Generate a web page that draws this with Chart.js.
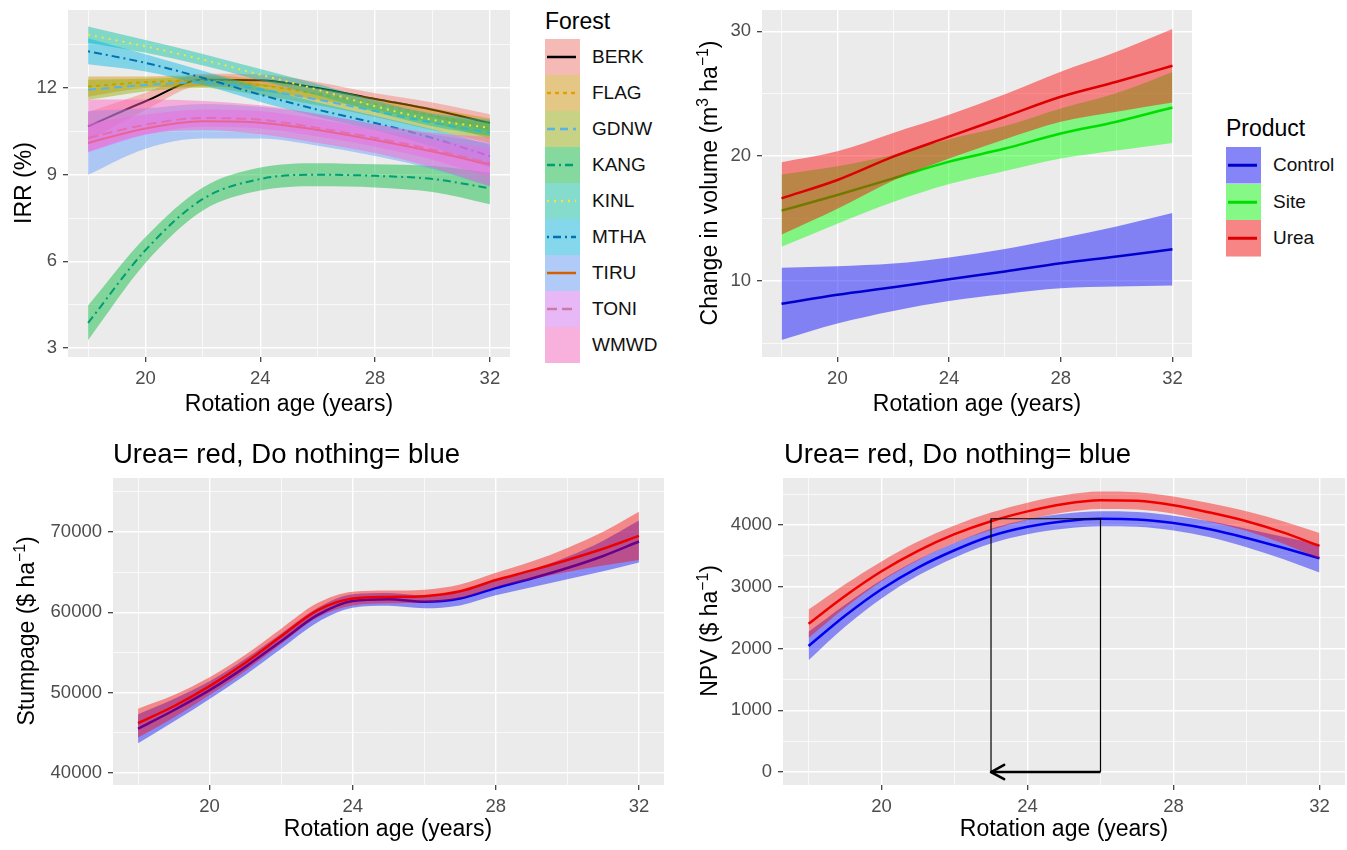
<!DOCTYPE html>
<html>
<head>
<meta charset="utf-8">
<script src="https://cdn.jsdelivr.net/npm/chart.js@4.4.1/dist/chart.umd.min.js"></script>
<style>
  body { margin: 0; background: #fff; font-family: "Liberation Sans", Arial, sans-serif; }
  #page { position: relative; width: 1347px; height: 850px; overflow: hidden; }
  canvas { position: absolute; }
  .txt { position: absolute; white-space: nowrap; color: #000; line-height: 1.15; }
  .ytitle { font-size: 23px; transform: translate(-50%, -50%) rotate(-90deg); }
  .xtitle { font-size: 23px; transform: translate(-50%, -50%); }
  .ptitle { font-size: 27.5px; transform: translate(0, -50%); }
  .ltitle { font-size: 23px; transform: translate(0, -50%); }
  .llabel { font-size: 19px; transform: translate(0, -50%); color: #111; }
  .key { position: absolute; }
  sup { font-size: 0.68em; line-height: 0; vertical-align: 0.55em; }
</style>
</head>
<body>
<div id="page">
  <canvas id="irr" width="515" height="415" style="left:0px;top:0px"></canvas>
  <canvas id="vol" width="497" height="415" style="left:700px;top:0px"></canvas>
  <canvas id="stump" width="640" height="350" style="left:30px;top:470px"></canvas>
  <canvas id="npv" width="647" height="350" style="left:700px;top:470px"></canvas>

  <div class="txt ytitle" style="left:23px;top:183px">IRR (%)</div>
  <div class="txt xtitle" style="left:289px;top:403px">Rotation age (years)</div>

  <div class="txt ytitle" style="left:709px;top:183px">Change in volume (m<sup>3</sup> ha<sup>−1</sup>)</div>
  <div class="txt xtitle" style="left:977px;top:403px">Rotation age (years)</div>

  <div class="txt ptitle" style="left:113px;top:454px">Urea= red, Do nothing= blue</div>
  <div class="txt ytitle" style="left:26px;top:631px">Stumpage ($ ha<sup>−1</sup>)</div>
  <div class="txt xtitle" style="left:388px;top:828px">Rotation age (years)</div>

  <div class="txt ptitle" style="left:784px;top:454px">Urea= red, Do nothing= blue</div>
  <div class="txt ytitle" style="left:709px;top:631px">NPV ($ ha<sup>−1</sup>)</div>
  <div class="txt xtitle" style="left:1064px;top:828px">Rotation age (years)</div>

  <div id="legForest"></div>
  <div id="legProduct"></div>
</div>

<script>
const family = '"Liberation Sans", Arial, sans-serif';

// x values (rotation age, years)
const ageCoarse = [18, 20, 22, 24, 26, 28, 30, 32];
const ageFine = [18, 19, 20, 21, 22, 23, 24, 25, 26, 27, 28, 29, 30, 31, 32];
const ageMajor = [20, 24, 28, 32];
const ageMinor = [18, 22, 26, 30];

// IRR (%) by forest, smoothed mean and half width of the band
const forests = ['BERK', 'FLAG', 'GDNW', 'KANG', 'KINL', 'MTHA', 'TIRU', 'TONI', 'WMWD'];
const irrBERK = [10.67, 11.54, 12.29, 12.27, 12.0, 11.62, 11.25, 10.79];
const irrBERKse = [0.5, 0.3, 0.2, 0.2, 0.2, 0.2, 0.25, 0.3];
const irrFLAG = [12.05, 12.2, 12.25, 12.1, 11.8, 11.45, 11.05, 10.6];
const irrFLAGse = [0.35, 0.2, 0.2, 0.2, 0.2, 0.2, 0.25, 0.35];
const irrGDNW = [11.94, 12.1, 12.2, 11.95, 11.6, 11.2, 10.8, 10.45];
const irrGDNWse = [0.35, 0.22, 0.2, 0.2, 0.2, 0.2, 0.25, 0.35];
const irrKANG = [3.87, 6.39, 8.16, 8.85, 9.0, 8.96, 8.85, 8.53];
const irrKANGse = [0.6, 0.45, 0.4, 0.4, 0.4, 0.4, 0.45, 0.55];
const irrKINL = [13.85, 13.44, 12.98, 12.46, 11.94, 11.37, 10.9, 10.62];
const irrKINLse = [0.28, 0.22, 0.2, 0.2, 0.2, 0.2, 0.22, 0.28];
const irrMTHA = [13.27, 12.87, 12.35, 11.77, 11.25, 10.79, 10.27, 9.64];
const irrMTHAse = [0.45, 0.3, 0.25, 0.25, 0.25, 0.25, 0.3, 0.4];
const irrTIRU = [10.1, 10.6, 10.85, 10.8, 10.55, 10.2, 9.8, 9.35];
const irrTIRUse = [1.1, 0.7, 0.6, 0.55, 0.55, 0.55, 0.6, 0.75];
const irrTONI = [10.27, 10.73, 10.96, 10.9, 10.62, 10.27, 9.87, 9.4];
const irrTONIse = [0.5, 0.35, 0.3, 0.3, 0.3, 0.3, 0.35, 0.5];
const irrWMWD = [10.7, 11.0, 11.05, 10.9, 10.6, 10.25, 9.85, 9.45];
const irrWMWDse = [0.9, 0.6, 0.5, 0.5, 0.5, 0.5, 0.6, 0.85];
const irrMajor = [3, 6, 9, 12];
const irrMinor = [4.5, 7.5, 10.5, 13.5];

// change in volume by product
const products = ['Control', 'Site', 'Urea'];
const volControl = [8.16, 8.88, 9.49, 10.13, 10.75, 11.41, 11.95, 12.53];
const volControlSe = [2.9, 2.3, 1.9, 1.75, 1.8, 2.0, 2.4, 2.9];
const volSite = [15.63, 16.88, 18.21, 19.55, 20.6, 21.81, 22.75, 23.89];
const volSiteSe = [2.9, 2.3, 1.9, 1.8, 1.8, 2.0, 2.3, 2.85];
const volUrea = [16.61, 18.08, 19.95, 21.55, 23.15, 24.75, 25.95, 27.23];
const volUreaSe = [2.9, 2.3, 1.9, 1.75, 1.8, 2.0, 2.4, 2.95];
const volMajor = [10, 20, 30];
const volMinor = [5, 15, 25];

// stumpage ($/ha)
const stumpNothing = [45500, 47800, 50300, 53200, 56400, 59600, 61400, 61600, 61300, 61700, 63000, 64200, 65500, 67000, 68800];
const stumpNothingSe = [1800, 1400, 1100, 1000, 950, 900, 850, 800, 800, 850, 900, 1100, 1400, 1900, 2600];
const stumpUrea = [46200, 48300, 50800, 53700, 57000, 60200, 61700, 61900, 62000, 62600, 64000, 65200, 66500, 67900, 69500];
const stumpUreaSe = [1800, 1400, 1100, 1000, 950, 900, 850, 800, 800, 850, 900, 1100, 1500, 2100, 3000];
const stumpMajor = [40000, 50000, 60000, 70000];
const stumpMinor = [45000, 55000, 65000, 75000];

// NPV ($/ha)
const npvNothing = [2040, 2530, 2960, 3310, 3590, 3820, 3970, 4060, 4100, 4090, 4030, 3930, 3790, 3630, 3460];
const npvNothingSe = [230, 180, 150, 130, 120, 120, 120, 120, 120, 120, 120, 130, 150, 180, 230];
const npvUrea = [2400, 2850, 3250, 3580, 3850, 4060, 4220, 4340, 4400, 4390, 4320, 4200, 4060, 3880, 3660];
const npvUreaSe = [230, 190, 160, 150, 140, 140, 140, 140, 140, 140, 140, 150, 160, 180, 210];
const npvMajor = [0, 1000, 2000, 3000, 4000];
const npvMinor = [500, 1500, 2500, 3500, 4500];
// optimum rotation marker
const boxAge = [23, 23, 26, 26];
const boxNpv = [0, 4100, 4100, 0];
const arrowAge = [26, 23];
const arrowNpv = [0, 0];

// styles
const forestFill = ['#F8766D', '#D39200', '#93AA00', '#00BA38', '#00C19F', '#00B9E3', '#619CFF', '#DB72FB', '#FF61C3'];
const forestLine = ['#000000', '#E69F00', '#56B4E9', '#009E73', '#F0E442', '#0072B2', '#D55E00', '#CC79A7', null];
const forestDash = [[], [4, 4], [8, 5], [8, 4, 2, 4], [2, 5], [2, 4, 8, 4], [], [10, 5], []];
const productFill = ['#0000FF', '#00FF00', '#FF0000'];
const productLine = ['#0000cc', '#00dd00', '#dd0000'];

function rgba(hex, a) {
  const n = parseInt(hex.slice(1), 16);
  return `rgba(${n >> 16},${(n >> 8) & 255},${n & 255},${a})`;
}

function pts(xs, ys) {
  return xs.map((x, i) => ({ x: x, y: ys[i] }));
}

// ribbon (lower + upper filled to lower) then the mean line
function smooth(sets, xs, mean, se, fill, line, width, dash) {
  const lower = mean.map((m, i) => m - se[i]);
  const upper = mean.map((m, i) => m + se[i]);
  sets.push({ data: pts(xs, lower), borderColor: 'rgba(0,0,0,0)', borderWidth: 0, fill: false, cubicInterpolationMode: 'monotone' });
  sets.push({ data: pts(xs, upper), borderColor: 'rgba(0,0,0,0)', borderWidth: 0, backgroundColor: fill, fill: '-1', cubicInterpolationMode: 'monotone' });
  if (line) {
    sets.push({ data: pts(xs, mean), borderColor: line, borderWidth: width, borderDash: dash || [], fill: false, cubicInterpolationMode: 'monotone' });
  }
}

function axis(min, max, major, minor, size, horizontal) {
  const all = major.concat(minor).sort((a, b) => a - b);
  const isMajor = c => c.tick && major.includes(c.tick.value);
  return {
    type: 'linear', min: min, max: max,
    afterBuildTicks: s => { s.ticks = all.map(v => ({ value: v })); },
    afterFit: s => {
      if (horizontal) s.height = size; else s.width = size;
      s.paddingTop = 0; s.paddingBottom = 0; s.paddingLeft = 0; s.paddingRight = 0;
    },
    ticks: {
      autoSkip: false, maxRotation: 0, minRotation: 0, padding: horizontal ? 6 : 6,
      color: '#4d4d4d', font: { family: family, size: 18.5 },
      callback: v => major.includes(v) ? String(v) : ''
    },
    grid: {
      color: '#ffffff',
      lineWidth: c => isMajor(c) ? 1.4 : 0.7,
      tickLength: 5,
      tickWidth: 1.2,
      tickColor: c => isMajor(c) ? '#333333' : 'rgba(0,0,0,0)'
    },
    border: { display: false }
  };
}

const panelBg = {
  id: 'panelBg',
  beforeDraw(chart) {
    const a = chart.chartArea, ctx = chart.ctx;
    ctx.save();
    ctx.fillStyle = '#ebebeb';
    ctx.fillRect(a.left, a.top, a.right - a.left, a.bottom - a.top);
    ctx.restore();
  }
};
Chart.register(panelBg);

const arrowHead = {
  id: 'arrowHead',
  afterDatasetsDraw(chart) {
    chart.data.datasets.forEach((d, i) => {
      if (!d.arrow) return;
      const p = chart.getDatasetMeta(i).data;
      const tip = p[p.length - 1], prev = p[p.length - 2];
      const ang = Math.atan2(tip.y - prev.y, tip.x - prev.x);
      const ctx = chart.ctx;
      ctx.save();
      ctx.strokeStyle = '#000';
      ctx.lineWidth = 2.5;
      ctx.lineCap = 'round';
      ctx.beginPath();
      [-0.5, 0.5].forEach(s => {
        ctx.moveTo(tip.x - 15 * Math.cos(ang + s), tip.y - 15 * Math.sin(ang + s));
        ctx.lineTo(tip.x, tip.y);
      });
      ctx.stroke();
      ctx.restore();
    });
  }
};

function makeChart(id, sets, xOpt, yOpt, pad, plugins) {
  sets.forEach((d, i) => { d.order = sets.length - i; d.pointRadius = 0; });
  return new Chart(document.getElementById(id), {
    type: 'line',
    data: { datasets: sets },
    options: {
      responsive: false,
      animation: false,
      layout: { padding: pad },
      plugins: { legend: { display: false }, tooltip: { enabled: false } },
      scales: { x: xOpt, y: yOpt }
    },
    plugins: plugins || []
  });
}

// panel 1
const irrMean = [irrBERK, irrFLAG, irrGDNW, irrKANG, irrKINL, irrMTHA, irrTIRU, irrTONI, irrWMWD];
const irrSe = [irrBERKse, irrFLAGse, irrGDNWse, irrKANGse, irrKINLse, irrMTHAse, irrTIRUse, irrTONIse, irrWMWDse];
let irrSets = [];
forests.forEach((f, i) => {
  smooth(irrSets, ageCoarse, irrMean[i], irrSe[i], rgba(forestFill[i], 0.45), forestLine[i], 2, forestDash[i]);
});
makeChart('irr', irrSets,
  axis(17.3, 32.7, ageMajor, ageMinor, 58, true),
  axis(2.69, 14.7, irrMajor, irrMinor, 68, false),
  { top: 10, right: 5, left: 0, bottom: 0 });

// panel 2
const volMean = [volControl, volSite, volUrea];
const volSe = [volControlSe, volSiteSe, volUreaSe];
let volSets = [];
products.forEach((p, i) => {
  smooth(volSets, ageCoarse, volMean[i], volSe[i], rgba(productFill[i], 0.45), productLine[i], 2.5);
});
makeChart('vol', volSets,
  axis(17.3, 32.7, ageMajor, ageMinor, 58, true),
  axis(3.9, 31.7, volMajor, volMinor, 62, false),
  { top: 10, right: 5, left: 0, bottom: 0 });

// panel 3
let stumpSets = [];
smooth(stumpSets, ageFine, stumpNothing, stumpNothingSe, 'rgba(0,0,255,0.42)', '#0000ee', 2.5);
smooth(stumpSets, ageFine, stumpUrea, stumpUreaSe, 'rgba(255,0,0,0.42)', '#ee0000', 2.5);
makeChart('stump', stumpSets,
  axis(17.3, 32.7, ageMajor, ageMinor, 35, true),
  axis(38500, 76700, stumpMajor, stumpMinor, 83, false),
  { top: 8, right: 6, left: 0, bottom: 0 });

// panel 4
let npvSets = [];
smooth(npvSets, ageFine, npvNothing, npvNothingSe, 'rgba(0,0,255,0.42)', '#0000ee', 2.5);
smooth(npvSets, ageFine, npvUrea, npvUreaSe, 'rgba(255,0,0,0.42)', '#ee0000', 2.5);
npvSets.push({ data: pts(boxAge, boxNpv), borderColor: '#000', borderWidth: 1.2, fill: false });
npvSets.push({ data: pts(arrowAge, arrowNpv), borderColor: '#000', borderWidth: 2.5, fill: false, arrow: true });
makeChart('npv', npvSets,
  axis(17.3, 32.7, ageMajor, ageMinor, 35, true),
  axis(-210, 4760, npvMajor, npvMinor, 83, false),
  { top: 8, right: 2, left: 0, bottom: 0 },
  [arrowHead]);

// legends
function keySvg(w, h, fill, line, dash, lw) {
  const d = dash && dash.length ? ` stroke-dasharray="${dash.join(' ')}"` : '';
  const ln = line ? `<line x1="2" y1="${h / 2}" x2="${w - 4}" y2="${h / 2}" stroke="${line}" stroke-width="${lw}"${d}/>` : '';
  return `<svg width="${w}" height="${h}"><rect width="${w}" height="${h}" fill="#f2f2f2"/><rect width="${w}" height="${h}" fill="${fill}"/>${ln}</svg>`;
}

let html = '<div class="txt ltitle" style="left:545px;top:21px">Forest</div>';
forests.forEach((f, i) => {
  const top = 39 + i * 36;
  html += `<div class="key" style="left:545px;top:${top}px;height:36px">${keySvg(35, 36, rgba(forestFill[i], 0.45), forestLine[i], forestDash[i], 2.5)}</div>`;
  html += `<div class="txt llabel" style="left:592px;top:${top + 18}px">${f}</div>`;
});
document.getElementById('legForest').innerHTML = html;

html = '<div class="txt ltitle" style="left:1226px;top:128px">Product</div>';
products.forEach((p, i) => {
  const top = 147 + i * 36.5;
  html += `<div class="key" style="left:1226px;top:${top}px;height:36.5px">${keySvg(35, 36.5, rgba(productFill[i], 0.45), productLine[i], [], 3)}</div>`;
  html += `<div class="txt llabel" style="left:1273px;top:${top + 18}px">${p}</div>`;
});
document.getElementById('legProduct').innerHTML = html;
</script>
</body>
</html>
